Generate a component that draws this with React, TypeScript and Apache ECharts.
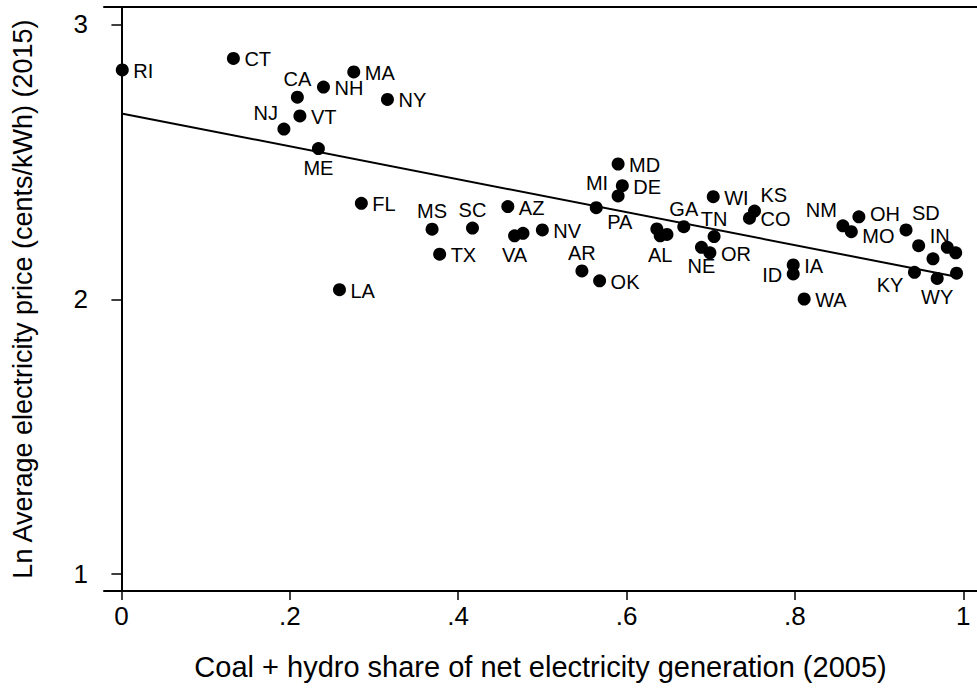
import React, { useEffect, useRef } from "react";
import * as echarts from "echarts";

// State abbreviations ("" = unlabeled point)
const states = [
  "RI", "CT", "CA", "NH", "MA", "NY", "NJ", "VT", "ME", "FL",
  "MS", "SC", "TX", "LA", "AZ", "VA", "", "NV", "AR", "OK",
  "PA", "MD", "DE", "MI", "", "AL", "", "GA", "TN", "WI",
  "NE", "OR", "KS", "CO", "NM", "MO", "OH", "SD", "IN", "",
  "", "", "KY", "WY", "", "ID", "IA", "WA",
];
// Coal + hydro share of net electricity generation (2005)
const coalHydroShare = [
  0.001, 0.133, 0.209, 0.24, 0.276, 0.316, 0.193, 0.212, 0.234, 0.285,
  0.369, 0.417, 0.378, 0.259, 0.459, 0.467, 0.477, 0.5, 0.547, 0.568,
  0.564, 0.59, 0.595, 0.59, 0.636, 0.64, 0.648, 0.668, 0.704, 0.703,
  0.689, 0.699, 0.752, 0.746, 0.857, 0.867, 0.876, 0.932, 0.947, 0.981,
  0.991, 0.964, 0.942, 0.969, 0.992, 0.798, 0.798, 0.811,
];
// Ln average electricity price (cents/kWh) (2015)
const lnPrice = [
  2.834, 2.876, 2.735, 2.772, 2.827, 2.727, 2.619, 2.667, 2.548, 2.349,
  2.255, 2.259, 2.164, 2.035, 2.337, 2.231, 2.24, 2.252, 2.103, 2.067,
  2.333, 2.492, 2.413, 2.376, 2.256, 2.231, 2.236, 2.264, 2.228, 2.373,
  2.189, 2.169, 2.321, 2.295, 2.267, 2.246, 2.3, 2.252, 2.195, 2.189,
  2.169, 2.147, 2.098, 2.076, 2.095, 2.092, 2.125, 2.001,
];
// Fitted line endpoints
const fitX = [0, 0.992];
const fitY = [2.676, 2.082];

const xTicks = [0, 0.2, 0.4, 0.6, 0.8, 1];
const yTicks = [1, 2, 3];

const xTitle = "Coal + hydro share of net electricity generation (2005)";
const yTitle = "Ln Average electricity price (cents/kWh) (2015)";

// label placement: [align, dx, dy]
const RIGHT: [string, number, number] = ["left", 11, 1];
const TOP: [string, number, number] = ["center", 0, -18];
const BOTTOM: [string, number, number] = ["center", 0, 19];
const LEFT: [string, number, number] = ["right", -11, 1];
const labelPlacement: Record<string, [string, number, number]> = {
  CA: TOP,
  NJ: ["right", -6, -16],
  ME: BOTTOM,
  MS: TOP,
  SC: TOP,
  VA: BOTTOM,
  AR: TOP,
  PA: ["left", 11, 14],
  MI: ["right", -10, -13],
  AL: BOTTOM,
  GA: TOP,
  TN: TOP,
  NE: BOTTOM,
  KS: ["left", 6, -16],
  NM: ["right", -6, -16],
  MO: ["left", 11, 4],
  OH: ["left", 11, -3],
  SD: ["left", 6, -17],
  IN: ["left", 11, -10],
  KY: ["right", -11, 13],
  WY: BOTTOM,
  ID: LEFT,
};

const FONT = "'Liberation Sans', Arial, Helvetica, sans-serif";

const fmtX = (v: number) => {
  if (v === 0) return "0";
  if (v === 1) return "1";
  return "." + String(Math.round(v * 10));
};

export default function App() {
  const ref = useRef<HTMLDivElement>(null);
  useEffect(() => {
    if (!ref.current) return;
    const chart = echarts.init(ref.current, undefined, { renderer: "svg" });
    const points = states.map((name, i) => {
      const pl = labelPlacement[name] || RIGHT;
      return {
        name,
        value: [coalHydroShare[i], lnPrice[i]],
        label: {
          show: name !== "",
          position: "inside",
          align: pl[0],
          verticalAlign: "middle",
          offset: [pl[1], pl[2]],
          formatter: name,
          color: "#000",
          fontSize: 20,
          fontFamily: FONT,
        },
      };
    });
    const axisLine = { show: true, lineStyle: { color: "#000", width: 2 } };
    chart.setOption({
      animation: false,
      backgroundColor: "#fff",
      textStyle: { fontFamily: FONT },
      grid: {
        left: 104,
        right: 0,
        top: 7,
        bottom: 98,
        containLabel: false,
        outerBoundsMode: "none",
      },
      xAxis: [
        {
          type: "value",
          min: -0.0207,
          max: 1.0163,
          position: "bottom",
          axisLine,
          splitLine: { show: false },
          axisTick: {
            show: true,
            length: 9,
            customValues: xTicks,
            lineStyle: { color: "#000", width: 1.5 },
          },
          axisLabel: {
            customValues: xTicks,
            formatter: fmtX,
            color: "#000",
            fontSize: 26,
            margin: 12,
            fontFamily: FONT,
          },
          name: xTitle,
          nameLocation: "middle",
          nameGap: 61,
          nameTextStyle: { color: "#000", fontSize: 29, fontFamily: FONT },
        },
        {
          type: "value",
          min: -0.0207,
          max: 1.0163,
          position: "top",
          axisLine,
          splitLine: { show: false },
          axisTick: { show: false },
          axisLabel: { show: false },
        },
      ],
      yAxis: {
        type: "value",
        min: 0.939,
        max: 3.063,
        axisLine,
        splitLine: { show: false },
        axisTick: {
          show: true,
          length: 10,
          customValues: yTicks,
          lineStyle: { color: "#000", width: 1.5 },
        },
        axisLabel: {
          customValues: yTicks,
          formatter: (v: number) => String(v),
          color: "#000",
          fontSize: 26,
          margin: 16,
          fontFamily: FONT,
        },
        name: yTitle,
        nameLocation: "middle",
        nameGap: 68,
        nameTextStyle: { color: "#000", fontSize: 27, fontFamily: FONT },
      },
      series: [
        {
          type: "line",
          data: fitX.map((x, i) => [x, fitY[i]]),
          showSymbol: false,
          symbol: "none",
          lineStyle: { color: "#000", width: 2 },
          silent: true,
          z: 1,
        },
        {
          type: "scatter",
          data: points,
          symbol: "circle",
          symbolSize: 13,
          itemStyle: { color: "#000", opacity: 1 },
          z: 2,
        },
      ],
    });
    return () => chart.dispose();
  }, []);
  return (
    <div
      ref={ref}
      style={{ position: "absolute", left: 0, top: 0, width: 977, height: 689 }}
    />
  );
}
